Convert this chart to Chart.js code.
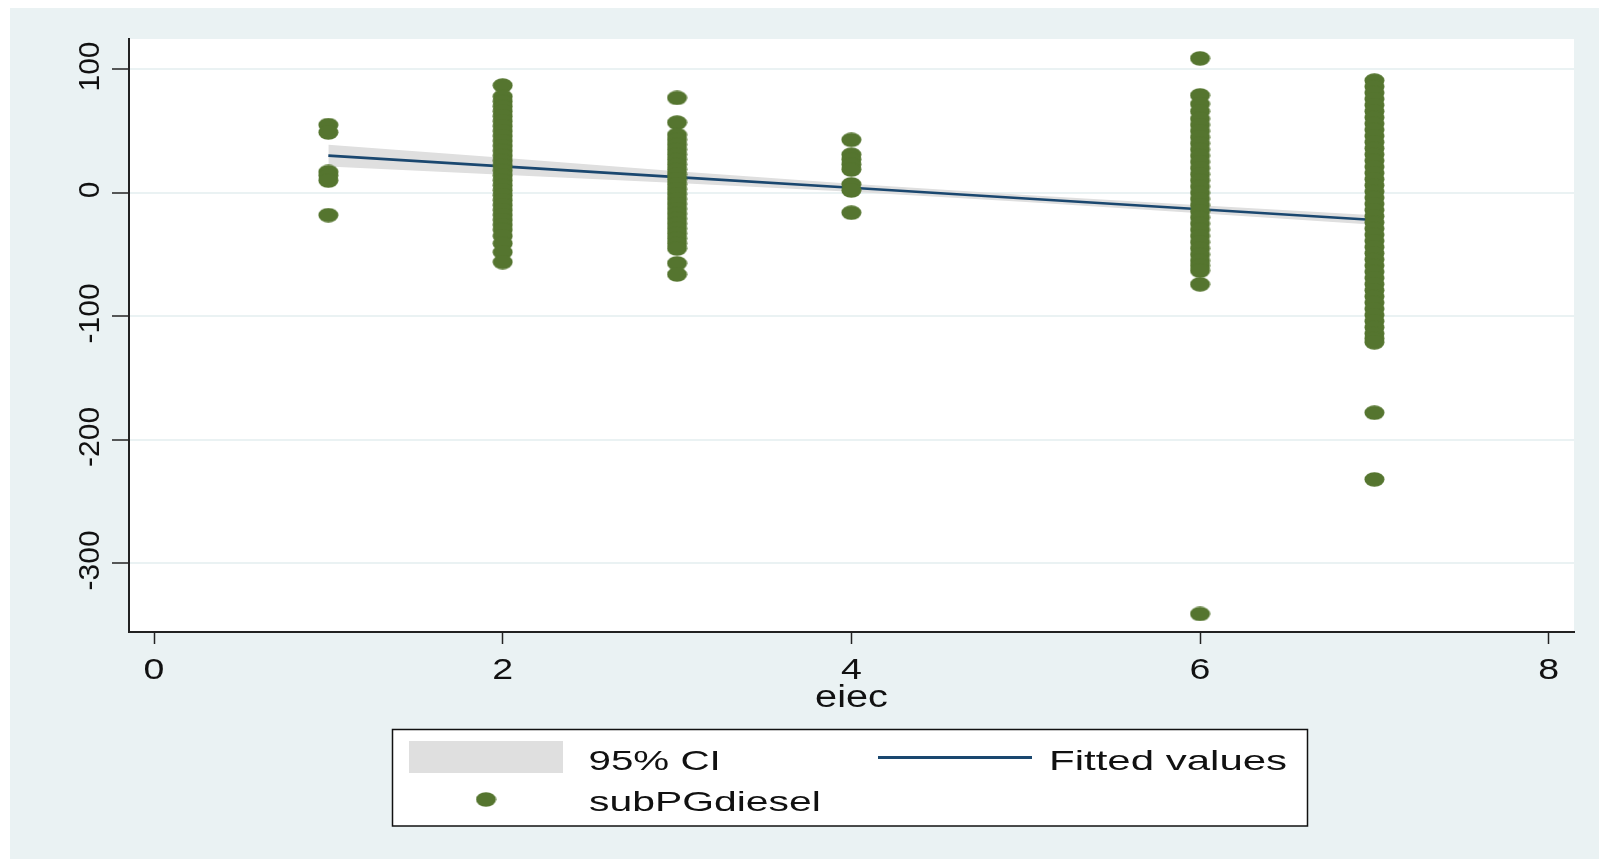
<!DOCTYPE html>
<html>
<head>
<meta charset="utf-8">
<script src="https://cdn.jsdelivr.net/npm/chart.js@4.4.0/dist/chart.umd.min.js"></script>
<style>
html,body{margin:0;padding:0;background:#fff;}
#wrap{position:relative;width:1599px;height:859px;}
</style>
</head>
<body>
<div id="wrap"><canvas id="c"></canvas></div>
<script>
// ---- data ----
const xTicks = [0, 2, 4, 6, 8];
const yTicks = [-300, -200, -100, 0, 100];
const groupX = [1, 2, 3, 4, 6, 7];
const sub1 = [55, 49, 17, 14, 10, -18];
const sub2 = [87, 78, 74, 70, 66, 62, 58, 54, 50, 46, 42, 38, 34, 30, 26, 22, 18, 14, 10, 6, 2, -2, -6, -10, -14, -18, -22, -26, -30, -35, -41, -48, -56];
const sub3 = [77, 57, 47, 43, 39, 35, 31, 27, 23, 19, 15, 11, 7, 3, -1, -5, -9, -13, -17, -21, -25, -29, -33, -37, -41, -45, -57, -66];
const sub4 = [43, 31, 27, 23, 19, 7, 2, -16];
const sub6 = [109, 79, 72, 66, 60, 55, 50, 45, 40, 35, 30, 25, 20, 15, 10, 5, 0, -5, -10, -15, -20, -25, -30, -35, -40, -45, -50, -55, -59, -63, -74, -341];
const sub7 = [91, 86, 81, 76, 71, 66, 61, 56, 51, 46, 41, 36, 31, 26, 21, 16, 11, 6, 1, -4, -9, -14, -19, -24, -29, -34, -39, -44, -49, -54, -59, -64, -69, -74, -79, -84, -89, -94, -99, -104, -109, -114, -118, -121, -178, -232];
const fitX = [1, 2, 3, 4, 5, 6, 7];
const fitY = [30.2, 21.5, 12.8, 4.2, -4.5, -13.2, -21.9];
const ciUpper = [39.0, 28.5, 17.5, 7.4, -1.6, -10.0, -18.0];
const ciLower = [21.4, 14.8, 8.1, 1.0, -7.4, -16.4, -25.8];
const legendLabels = ['95% CI', 'Fitted values', 'subPGdiesel'];
const axisTitle = 'eiec';

// ---- styles ----
const BG = '#eaf2f3';
const GREEN = 'rgb(85,117,47)';
const NAVY = 'rgb(26,71,111)';
const BAND = '#dfdfdf';
const INK = '#111';
const FONT = '"Liberation Sans", Arial, sans-serif';

const mk = document.createElement('canvas');
mk.width = 21; mk.height = 15;
(function(){ const m = mk.getContext('2d'); m.fillStyle = GREEN; m.beginPath(); m.ellipse(10.5, 7.5, 10, 7.3, 0, 0, Math.PI * 2); m.fill(); })();

const groups = [sub1, sub2, sub3, sub4, sub6, sub7];
const scatterPts = groupX.flatMap((x, i) => groups[i].map(y => ({x, y})));
const xy = (xs, ys) => xs.map((x, i) => ({x, y: ys[i]}));

function stretched(ctx, text, x, y, sx, align) {
  ctx.save();
  ctx.translate(x, y);
  ctx.scale(sx, 1);
  ctx.textAlign = align;
  ctx.textBaseline = 'alphabetic';
  ctx.fillText(text, 0, 0);
  ctx.restore();
}

const deco = {
  id: 'deco',
  beforeDraw(chart) {
    const {ctx, chartArea: a} = chart;
    ctx.save();
    ctx.fillStyle = '#fff';
    ctx.fillRect(0, 0, chart.width, chart.height);
    ctx.fillStyle = BG;
    ctx.fillRect(10, 8, chart.width - 10, chart.height - 8);
    ctx.fillStyle = '#fff';
    ctx.fillRect(a.left, a.top, a.right - a.left, a.bottom - a.top);
    ctx.restore();
  },
  afterDraw(chart) {
    const {ctx, chartArea: a} = chart;
    const xs = chart.scales.x, ys = chart.scales.y;
    ctx.save();
    ctx.fillStyle = INK;
    // y tick labels (rotated)
    ctx.font = '30px ' + FONT;
    ys.ticks.forEach(t => {
      const py = ys.getPixelForValue(t.value);
      ctx.save();
      ctx.translate(a.left - 30, py - 3);
      ctx.rotate(-Math.PI / 2);
      ctx.textAlign = 'center';
      ctx.textBaseline = 'alphabetic';
      ctx.fillText(String(t.value), 0, 0);
      ctx.restore();
    });
    // x tick labels
    xs.ticks.forEach(t => {
      stretched(ctx, String(t.value), xs.getPixelForValue(t.value), a.bottom + 46.5, 1.25, 'center');
    });
    // axis title
    ctx.font = '31px ' + FONT;
    stretched(ctx, axisTitle, (a.left + a.right) / 2, a.bottom + 74.5, 1.28, 'center');
    // legend
    ctx.fillStyle = '#fff';
    ctx.fillRect(392.5, 729.5, 915, 96.5);
    ctx.strokeStyle = '#111';
    ctx.lineWidth = 1.5;
    ctx.strokeRect(392.5, 729.5, 915, 96.5);
    ctx.fillStyle = BAND;
    ctx.fillRect(409, 741, 154, 32);
    ctx.strokeStyle = NAVY;
    ctx.lineWidth = 3;
    ctx.beginPath(); ctx.moveTo(878, 757.5); ctx.lineTo(1032, 757.5); ctx.stroke();
    ctx.drawImage(mk, 486 - 10.5, 799.5 - 7.5);
    ctx.fillStyle = INK;
    ctx.font = '28px ' + FONT;
    stretched(ctx, legendLabels[0], 588.5, 770, 1.44, 'left');
    stretched(ctx, legendLabels[1], 1049, 769.5, 1.5, 'left');
    stretched(ctx, legendLabels[2], 589, 810.5, 1.46, 'left');
    ctx.restore();
  }
};

new Chart(document.getElementById('c'), {
  type: 'line',
  data: {
    datasets: [
      {type: 'scatter', label: legendLabels[2], data: scatterPts, pointStyle: mk, pointRadius: 8, showLine: false, order: 0},
      {label: legendLabels[1], data: xy(fitX, fitY), borderColor: NAVY, borderWidth: 2.7, pointRadius: 0, fill: false, tension: 0, order: 1},
      {label: 'ci_upper', data: xy(fitX, ciUpper), borderColor: 'rgba(0,0,0,0)', borderWidth: 0, pointRadius: 0, backgroundColor: BAND, fill: {target: 3}, tension: 0, order: 2},
      {label: 'ci_lower', data: xy(fitX, ciLower), borderColor: 'rgba(0,0,0,0)', borderWidth: 0, pointRadius: 0, fill: false, tension: 0, order: 3}
    ]
  },
  options: {
    responsive: true,
    maintainAspectRatio: false,
    animation: false,
    events: [],
    layout: {padding: {left: 0, right: 25, top: 39, bottom: 0}},
    plugins: {legend: {display: false}, tooltip: {enabled: false}, title: {display: false}},
    scales: {
      x: {
        type: 'linear', min: -0.1434, max: 8.145,
        afterBuildTicks: s => { s.ticks = xTicks.map(v => ({value: v})); },
        afterFit: s => { s.height = 227; },
        ticks: {display: false},
        grid: {display: true, drawOnChartArea: false, drawTicks: true, tickLength: 12, tickColor: '#222', tickWidth: 1.5},
        border: {display: true, color: '#222', width: 2}
      },
      y: {
        type: 'linear', min: -355.6, max: 124.7,
        afterBuildTicks: s => { s.ticks = yTicks.map(v => ({value: v})); },
        afterFit: s => { s.width = 129; },
        ticks: {display: false},
        grid: {display: true, color: BG, lineWidth: 2, drawTicks: true, tickLength: 17, tickColor: '#222', tickWidth: 1.5},
        border: {display: true, color: '#222', width: 2}
      }
    }
  },
  plugins: [deco]
});
</script>
</body>
</html>
